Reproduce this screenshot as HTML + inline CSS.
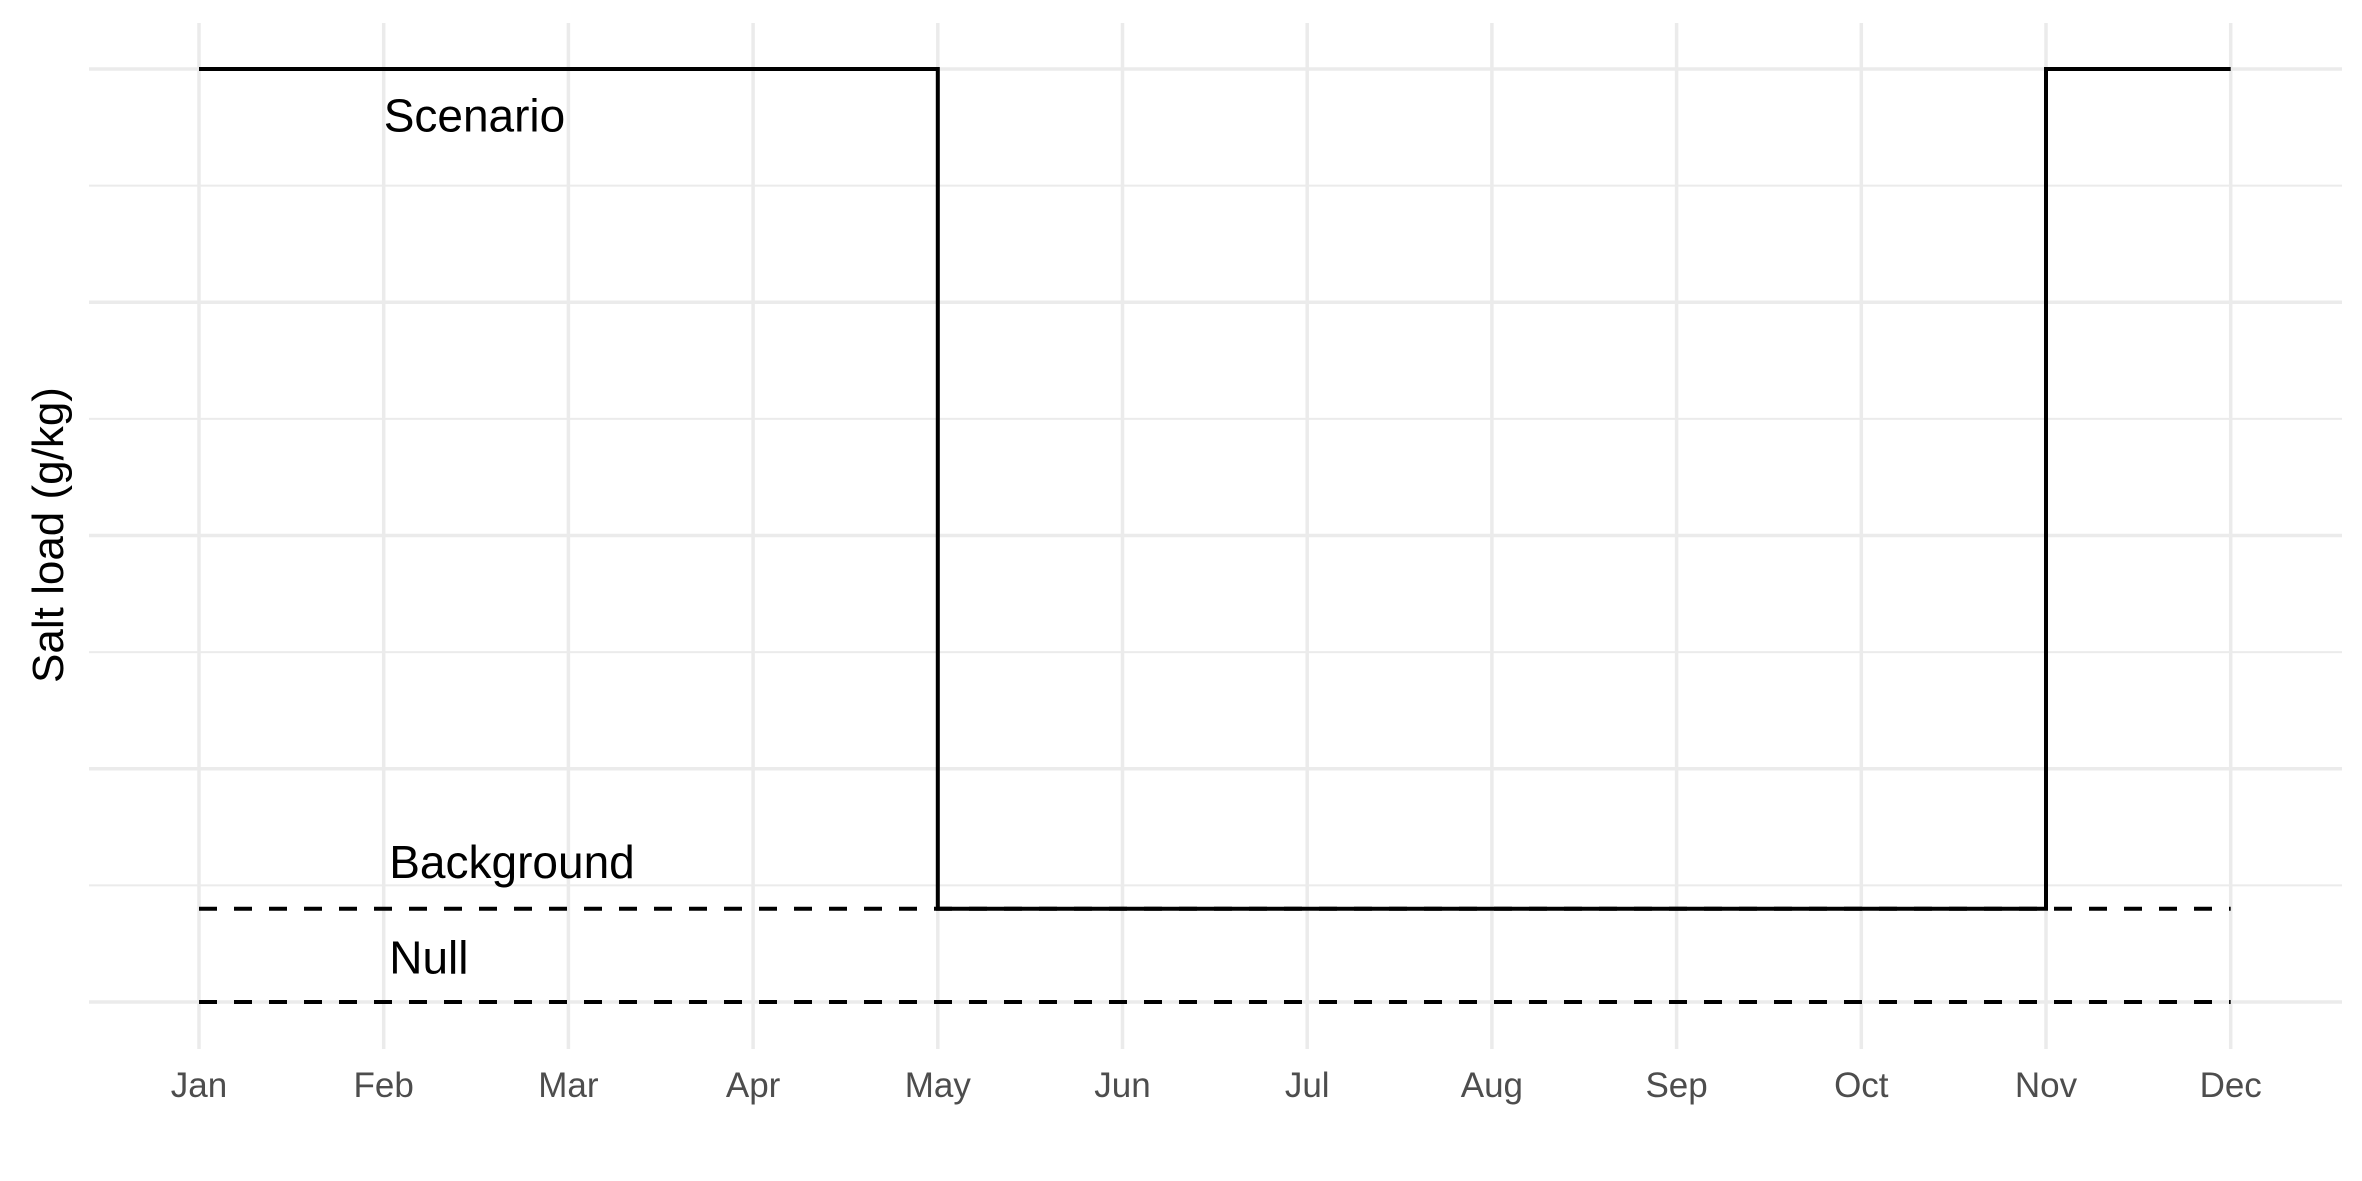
<!DOCTYPE html>
<html><head><meta charset="utf-8"><style>
html,body{margin:0;padding:0;background:#fff;}
svg{display:block;font-family:"Liberation Sans",Arial,sans-serif;}
</style></head><body>
<svg id="chart" width="2362" height="1181" viewBox="0 0 2362 1181" xmlns="http://www.w3.org/2000/svg">
<g id="grid"></g>
<g id="series"></g>
<g id="labels"></g>
<g id="xaxis"></g>
<text x="0" y="0" transform="translate(63,535) rotate(-90)" text-anchor="middle" font-size="44" fill="#000">Salt load (g/kg)</text>
</svg>
<script>
const months = ["Jan","Feb","Mar","Apr","May","Jun","Jul","Aug","Sep","Oct","Nov","Dec"];
const yMajor = [0,1,2,3,4];
const yMinor = [0.5,1.5,2.5,3.5];
const scenarioX = [0,4,4,10,10,11];
const scenarioY = [4,4,0.4,0.4,4,4];
const backgroundX = [0,11];
const backgroundY = [0.4,0.4];
const nullX = [0,11];
const nullY = [0,0];
const seriesLabels = ["Scenario","Background","Null"];
const labelX = [1.0,1.03,1.03];
const labelY = [3.8,0.6,0.19];

const NS="http://www.w3.org/2000/svg";
const x0=199, dx=184.7, yb=1002, dy=233.25;
const X=m=>x0+m*dx, Y=v=>yb-v*dy;
function mk(tag,attrs,parent){const e=document.createElementNS(NS,tag);for(const k in attrs)e.setAttribute(k,attrs[k]);parent.appendChild(e);return e;}
const grid=document.getElementById('grid');
yMinor.forEach(v=>{const l=mk('line',{x1:89,x2:2342,y1:Y(v),y2:Y(v),stroke:'#ebebeb','stroke-width':2},grid);

});
yMajor.forEach(v=>{const l=mk('line',{x1:89,x2:2342,y1:Y(v),y2:Y(v),stroke:'#ebebeb','stroke-width':3.5},grid);

});
const xa=document.getElementById('xaxis');
months.forEach((m,i)=>{const l=mk('line',{x1:X(i),x2:X(i),y1:23,y2:1049,stroke:'#ebebeb','stroke-width':3.5},grid);


const t=mk('text',{x:X(i),y:1097,'text-anchor':'middle','font-size':35,fill:'#4d4d4d'},xa);
t.textContent=m;

});
const sg=document.getElementById('series');
function path(xs,ys){return xs.map((x,i)=>(i?'L':'M')+X(x)+','+Y(ys[i])).join(' ');}
const pn=mk('path',{d:path(nullX,nullY),fill:'none',stroke:'#000','stroke-width':4,'stroke-dasharray':'18 17'},sg);


const pb=mk('path',{d:path(backgroundX,backgroundY),fill:'none',stroke:'#000','stroke-width':4,'stroke-dasharray':'18 17'},sg);


const ps=mk('path',{d:path(scenarioX,scenarioY),fill:'none',stroke:'#000','stroke-width':4,'stroke-linejoin':'miter'},sg);


const lg=document.getElementById('labels');
seriesLabels.forEach((s,i)=>{const t=mk('text',{x:X(labelX[i]),y:Y(labelY[i])+16,'font-size':46,fill:'#000'},lg);
t.textContent=s;

});
</script>
</body></html>
